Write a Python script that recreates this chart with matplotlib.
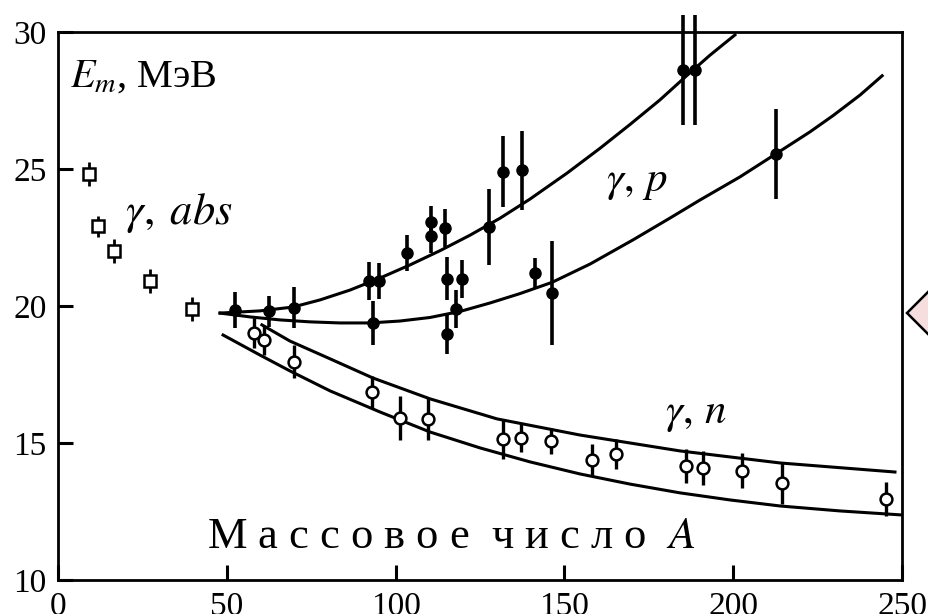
import matplotlib
matplotlib.use("Agg")
import matplotlib.pyplot as plt
from matplotlib.patches import Polygon

plt.rcParams['font.family'] = ['Liberation Serif', 'DejaVu Serif']
plt.rcParams['mathtext.fontset'] = 'stix'

# gamma, abs  (open squares)
abs_A = [9.3, 11.9, 16.7, 27.3, 39.6]
abs_E = [24.8, 22.9, 22.0, 20.9, 19.9]
abs_err = [0.44, 0.4, 0.44, 0.44, 0.44]

# gamma, p  (filled circles)
p_A = [52.4, 62.5, 69.9, 92.1, 95.1, 93.3, 103.4, 110.6, 110.6, 114.6, 115.2,
       119.7, 117.9, 115.2, 127.7, 131.8, 137.4, 141.3, 146.3, 185.1, 188.7, 212.7]
p_E = [19.85, 19.8, 19.93, 20.91, 20.91, 19.38, 21.93, 23.05, 22.55, 22.85, 20.99,
       20.99, 19.89, 18.98, 22.88, 24.9, 24.95, 21.2, 20.47, 28.6, 28.6, 25.55]
p_err = [0.66, 0.58, 0.75, 0.7, 0.65, 0.8, 0.67, 0.6, 0.6, 0.7, 0.78,
         0.7, 0.7, 0.75, 1.4, 1.3, 1.45, 0.55, 1.9, 2.0, 2.0, 1.65]

# gamma, n  (open circles)
n_A = [58.1, 61.0, 69.9, 93.0, 101.3, 109.6, 131.8, 137.1, 146.0,
       158.2, 165.3, 186.0, 191.0, 202.6, 214.5, 245.3]
n_E = [19.01, 18.76, 17.96, 16.86, 15.91, 15.88, 15.15, 15.18, 15.07,
       14.38, 14.6, 14.16, 14.09, 13.98, 13.54, 12.96]
n_err = [0.55, 0.55, 0.6, 0.58, 0.8, 0.77, 0.73, 0.5, 0.46,
         0.58, 0.55, 0.62, 0.62, 0.64, 0.77, 0.62]

# theory curves
cp1_A = [48.0, 59.8, 69.6, 77.6, 86.5, 95.4, 104.3, 113.2, 122.0, 130.9, 139.8,
         150.8, 160.5, 169.4, 178.3, 186.0, 193.1, 200.5]
cp1_E = [19.74, 19.82, 19.96, 20.22, 20.58, 21.02, 21.50, 22.02, 22.58, 23.20, 23.90,
         24.85, 25.75, 26.62, 27.52, 28.38, 29.15, 29.89]
cp2_A = [48.0, 56.9, 65.8, 74.6, 83.5, 92.4, 101.3, 110.2, 119.1, 128.0, 136.8,
         146.3, 157.6, 170.3, 181.3, 190.2, 202.0, 213.0, 222.7, 229.6, 237.6, 244.1]
cp2_E = [19.74, 19.60, 19.49, 19.42, 19.38, 19.38, 19.45, 19.58, 19.80, 20.11, 20.45,
         20.86, 21.53, 22.41, 23.21, 23.87, 24.71, 25.58, 26.35, 26.95, 27.70, 28.40]
cn1_A = [60.4, 68.7, 80.6, 93.3, 110.2, 130.0, 154.6, 184.2, 213.9, 247.9]
cn1_E = [19.31, 18.72, 18.07, 17.37, 16.61, 15.88, 15.29, 14.71, 14.27, 13.94]
cn2_A = [48.9, 59.8, 68.7, 80.6, 95.4, 110.2, 125.0, 139.8, 154.6, 169.4,
         184.2, 199.1, 213.9, 231.6, 250.3]
cn2_E = [18.94, 18.21, 17.63, 16.90, 16.13, 15.40, 14.82, 14.31, 13.87, 13.50,
         13.18, 12.92, 12.70, 12.52, 12.37]

fig = plt.figure(figsize=(9.29, 6.14), dpi=100)
ax = fig.add_axes([0.0624, 0.0554, 0.9086, 0.8926])

for cA, cE in [(cp1_A, cp1_E), (cp2_A, cp2_E), (cn1_A, cn1_E), (cn2_A, cn2_E)]:
    ax.plot(cA, cE, color='black', lw=2.2, solid_joinstyle='round', zorder=2)

ax.errorbar(abs_A, abs_E, yerr=abs_err, fmt='s', ms=8, mfc='white', mec='black',
            mew=1.8, ecolor='black', elinewidth=2.0, capsize=0, zorder=4)
eb = ax.errorbar(p_A, p_E, yerr=p_err, fmt='o', ms=8, mfc='black', mec='black',
                 ecolor='black', elinewidth=2.6, capsize=0, zorder=4)
for a in eb.lines[2]:
    a.set_clip_on(False)
ax.errorbar(n_A, n_E, yerr=n_err, fmt='o', ms=8.5, mfc='white', mec='black',
            mew=1.8, ecolor='black', elinewidth=2.4, capsize=0, zorder=4)

ax.set_xlim(0, 250)
ax.set_ylim(10, 30)
ax.set_xticks([0, 50, 100, 150, 200, 250])
ax.set_yticks([10, 15, 20, 25, 30])
ax.tick_params(direction='in', length=11, width=2.2, labelsize=24, pad=8)
for s in ax.spines.values():
    s.set_linewidth(2.0)

ax.text(3.6, 28.36, '$E_m$, МэВ', fontsize=29, ha='left', va='center')
ax.text(19.8, 23.39, r'$\gamma,\;abs$', fontsize=32, ha='left', va='center')
ax.text(171.5, 24.49, r'$\gamma,\,p$', fontsize=31, ha='center', va='center')
ax.text(189.1, 16.02, r'$\gamma,\,n$', fontsize=31, ha='center', va='center')
ax.text(44.1, 11.57, 'М а с с о в о е  ч и с л о  $A$', fontsize=32,
        ha='left', va='center')

# pink arrow tab at the right edge
tri = Polygon([(907 / 929, 1 - 313 / 614), (931 / 929, 1 - 289 / 614),
               (931 / 929, 1 - 337 / 614)], closed=True, transform=fig.transFigure,
              facecolor='#f6dede', edgecolor='black', lw=1.8, clip_on=False)
fig.patches.append(tri)

fig.savefig('out.png', dpi=100)
